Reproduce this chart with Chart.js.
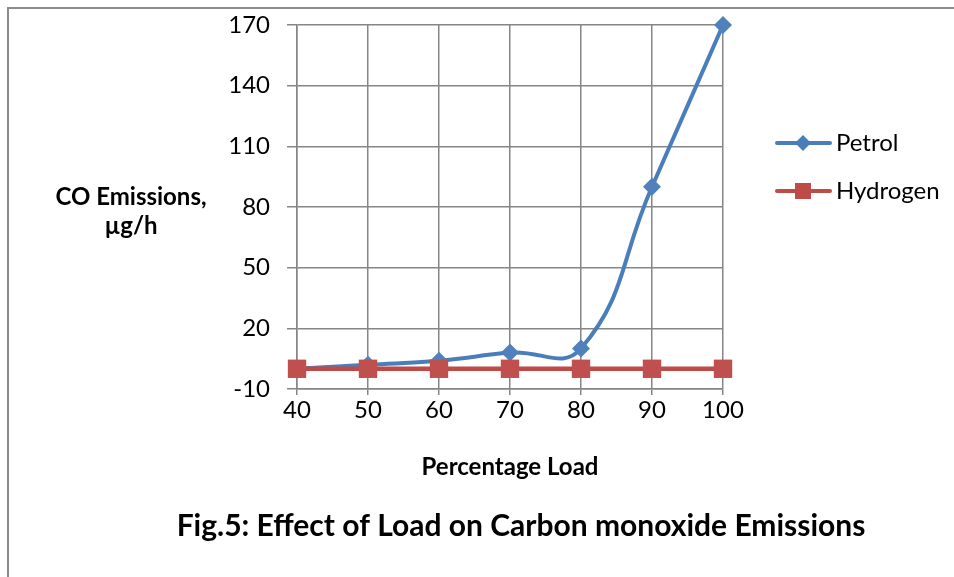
<!DOCTYPE html>
<html>
<head>
<meta charset="utf-8">
<script src="https://cdn.jsdelivr.net/npm/chart.js@4.4.0/dist/chart.umd.min.js"></script>
<style>
  html, body { margin: 0; padding: 0; background: #fff; }
  #wrap { position: relative; width: 954px; height: 577px; }
</style>
</head>
<body>
<div id="wrap"><canvas id="coChart" width="954" height="577"></canvas></div>
<script>
const loads = ['40', '50', '60', '70', '80', '90', '100'];
const petrol = [0, 2, 4, 8, 10, 90, 170];
const hydrogen = [0, 0, 0, 0, 0, 0, 0];
const yTicks = [-10, 20, 50, 80, 110, 140, 170];

const FONT = 'Lato, "Open Sans", sans-serif';
const BLUE = '#4a7ebb';
const RED = '#be4b48';

// frame, axis titles, caption and legend drawn straight on the canvas
const extras = {
  id: 'extras',
  beforeDraw(chart) {
    const c = chart.ctx;
    c.save();
    c.strokeStyle = '#8c8c8c';
    c.lineWidth = 2;
    c.beginPath();
    c.moveTo(8, 577);
    c.lineTo(8, 8);
    c.lineTo(954, 8);
    c.stroke();
    c.restore();
  },
  afterDraw(chart) {
    const c = chart.ctx;
    c.save();
    c.fillStyle = '#000';
    c.textAlign = 'center';
    c.textBaseline = 'middle';
    c.font = 'bold 24px ' + FONT;
    c.fillText('CO Emissions,', 131, 197);
    c.fillText('µg/h', 131, 226);
    c.font = 'bold 24px ' + FONT;
    c.fillText('Percentage Load', 510, 467);
    c.font = 'bold 30px ' + FONT;
    c.fillText('Fig.5: Effect of Load on Carbon monoxide Emissions', 521, 526);

    const items = [
      {label: 'Petrol', color: BLUE, y: 143, shape: 'diamond'},
      {label: 'Hydrogen', color: RED, y: 191, shape: 'square'}
    ];
    items.forEach(it => {
      c.strokeStyle = it.color;
      c.lineWidth = 4;
      c.lineCap = 'round';
      c.beginPath();
      c.moveTo(777, it.y);
      c.lineTo(830, it.y);
      c.stroke();
      c.fillStyle = it.color;
      if (it.shape === 'diamond') {
        c.beginPath();
        c.moveTo(803, it.y - 8);
        c.lineTo(811, it.y);
        c.lineTo(803, it.y + 8);
        c.lineTo(795, it.y);
        c.closePath();
        c.fill();
      } else {
        c.fillRect(795, it.y - 8, 16, 16);
      }
      c.fillStyle = '#000';
      c.textAlign = 'left';
      c.font = '24px ' + FONT;
      c.fillText(it.label, 836, it.y);
    });
    c.restore();
  }
};

new Chart(document.getElementById('coChart'), {
  type: 'line',
  data: {
    labels: loads,
    datasets: [
      {
        label: 'Hydrogen',
        data: hydrogen,
        borderColor: RED,
        backgroundColor: '#c0504d',
        borderWidth: 4.5,
        pointStyle: 'rect',
        pointRadius: 13,
        pointBorderWidth: 0,
        tension: 0,
        clip: false,
        order: 0
      },
      {
        label: 'Petrol',
        data: petrol,
        borderColor: BLUE,
        backgroundColor: '#4f81bd',
        borderWidth: 4,
        pointStyle: 'rectRot',
        pointRadius: 9,
        pointBorderWidth: 0,
        tension: 0.45,
        clip: false,
        order: 1
      }
    ]
  },
  options: {
    responsive: false,
    animation: false,
    layout: { padding: { top: 25, right: 231, left: 0, bottom: 0 } },
    plugins: {
      legend: { display: false },
      tooltip: { enabled: false }
    },
    scales: {
      x: {
        offset: false,
        grid: { color: '#868686', lineWidth: 1.5, tickLength: 6 },
        border: { color: '#868686', width: 1.5 },
        ticks: { color: '#000', font: { family: FONT, size: 24 }, padding: 1, maxRotation: 0 },
        afterFit(scale) {
          scale.height = 188;
          scale.paddingLeft = 0;
          scale.paddingRight = 0;
        }
      },
      y: {
        min: -10,
        max: 170,
        afterBuildTicks(scale) { scale.ticks = yTicks.map(v => ({value: v})); },
        grid: { color: '#868686', lineWidth: 1.5, tickLength: 10 },
        border: { color: '#868686', width: 1.5 },
        ticks: { color: '#000', font: { family: FONT, size: 24 }, padding: 17 },
        afterFit(scale) {
          scale.width = 297;
          scale.paddingTop = 0;
          scale.paddingBottom = 0;
        }
      }
    }
  },
  plugins: [extras]
});
</script>
</body>
</html>
